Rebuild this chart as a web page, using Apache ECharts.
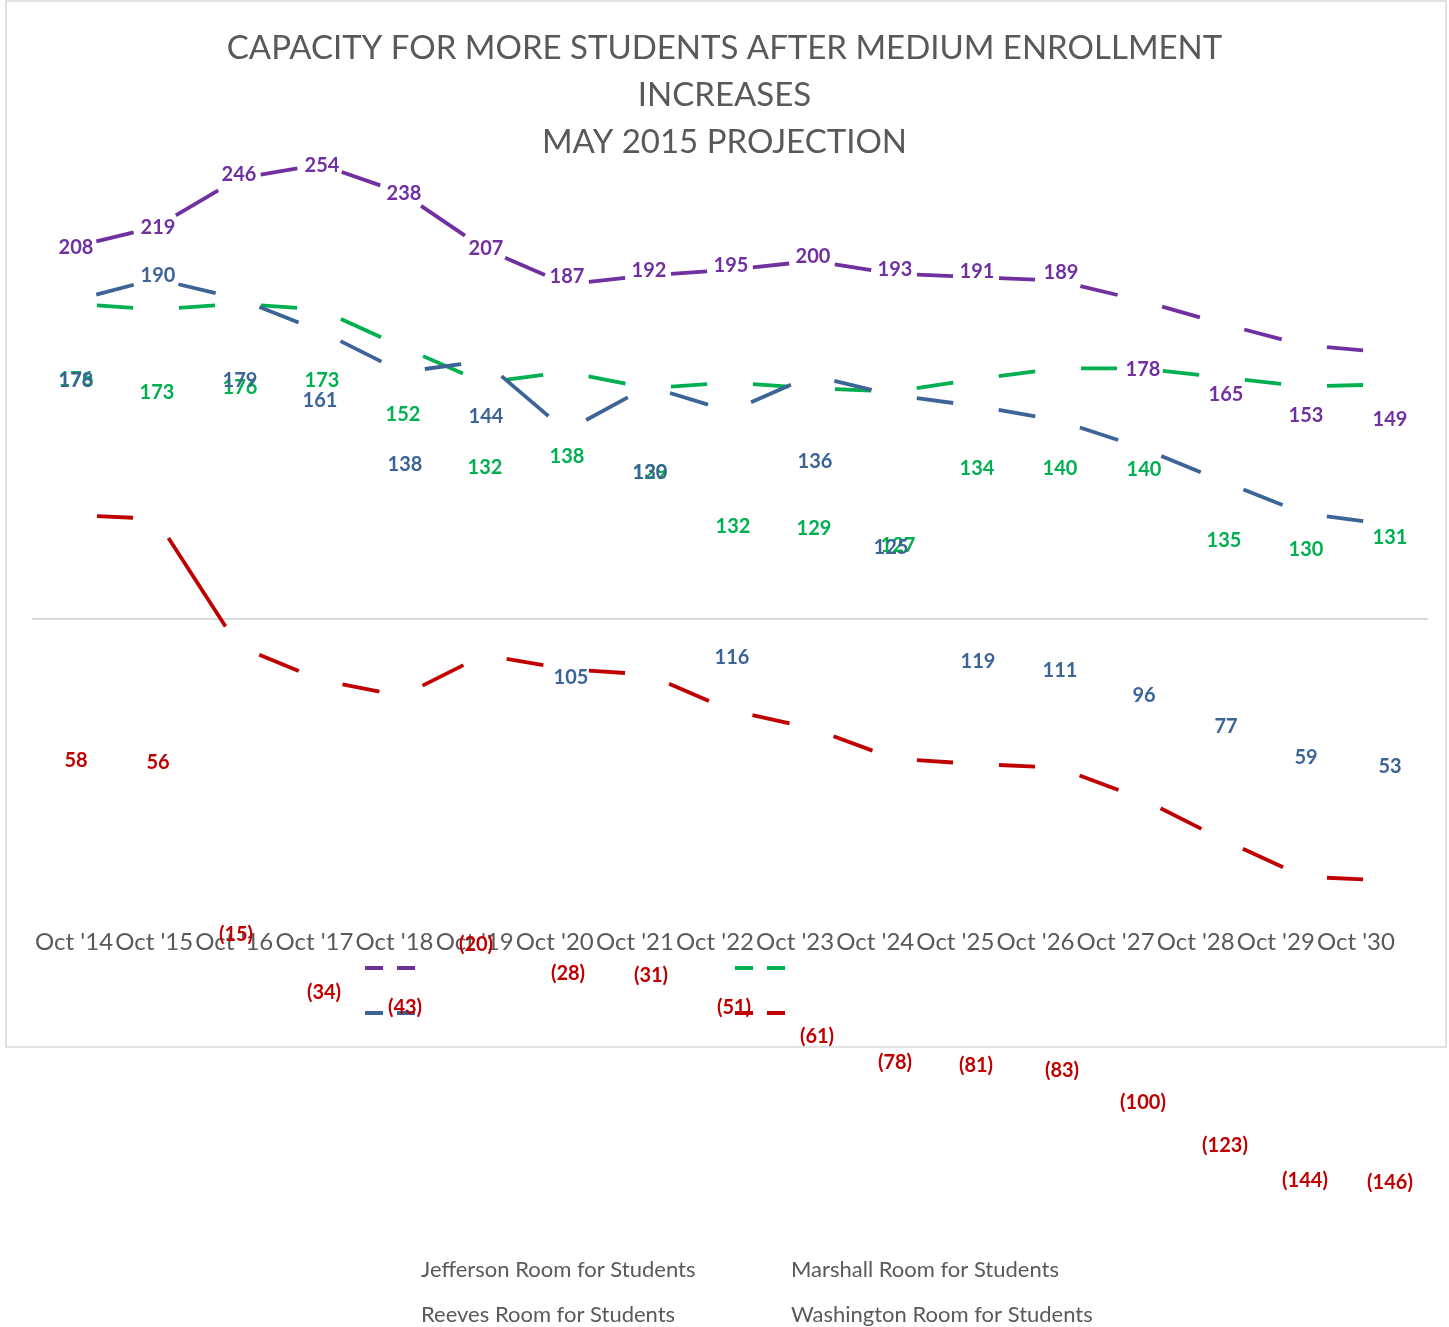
<!DOCTYPE html>
<html>
<head>
<meta charset="utf-8">
<script src="https://cdn.jsdelivr.net/npm/echarts@6/dist/echarts.min.js"></script>
<style>
  html, body { margin: 0; padding: 0; background: #fff; }
  #chart { width: 1449px; height: 1327px; }
</style>
</head>
<body>
<div id="chart"></div>
<script>
// categories + series values (room for more students)
const categories = ["Oct '14", "Oct '15", "Oct '16", "Oct '17", "Oct '18", "Oct '19", "Oct '20", "Oct '21", "Oct '22",
  "Oct '23", "Oct '24", "Oct '25", "Oct '26", "Oct '27", "Oct '28", "Oct '29", "Oct '30"];
const jefferson = [208, 219, 246, 254, 238, 207, 187, 192, 195, 200, 193, 191, 189, 178, 165, 153, 149];
const marshall = [176, 173, 176, 173, 152, 132, 138, 129, 132, 129, 127, 134, 140, 140, 135, 130, 131];
const reeves = [178, 190, 179, 161, 138, 144, 105, 130, 116, 136, 125, 119, 111, 96, 77, 59, 53];
const washington = [58, 56, -15, -34, -43, -20, -28, -31, -51, -61, -78, -81, -83, -100, -123, -144, -146];

// label placement (px offset from each point) - labels drift away from the lines in the original
const jeffersonLabelOffset = [[2, 1], [2, 1], [1, -4], [2, 1], [2, 1], [2, 0], [1, -8], [1, -5], [1, -4], [1, -4], [1, -4], [1, -6], [3, -8], [3, 69], [4, 71], [2, 70], [4, 67]];
const marshallLabelOffset = [[2, 76], [1, 83], [2, 84], [2, 71], [1, 68], [1, 85], [1, 85], [2, 84], [3, 144], [2, 140], [4, 154], [1, 89], [2, 100], [4, 101], [2, 163], [2, 163], [4, 153]];
const reevesLabelOffset = [[2, 80], [2, -3], [2, 82], [0, 70], [3, 93], [2, 55], [5, 246], [2, 86], [2, 246], [3, 86], [-3, 152], [2, 256], [2, 250], [4, 248], [4, 245], [2, 244], [4, 242]];
const washingtonLabelOffset = [[2, 245], [2, 244], [-2, 289], [4, 313], [3, 312], [-8, 290], [2, 304], [3, 301], [4, 297], [5, 308], [1, 304], [0, 302], [4, 303], [3, 305], [3, 306], [1, 304], [4, 302]];

const PURPLE = "#7030A0";
const GREEN = "#00B050";
const BLUE = "#3C6497";
const RED = "#C00000";
const GRAY_TEXT = "#595959";
const TRIM = 23; // each segment is cut short at both ends

const fmtValue = (v) => (v < 0 ? `(${-v})` : `${v}`);

/**
 * 折线：每段两端各缩进 TRIM 像素
 */
const segmentSeries = (name, values, color) => ({
  name,
  type: "custom",
  xAxisIndex: 0,
  yAxisIndex: 0,
  data: values.slice(0, -1).map((v, i) => [i, v, values[i + 1]]),
  encode: { x: 0, y: 1 },
  renderItem: (params, api) => {
    const p0 = api.coord([api.value(0), api.value(1)]);
    const p1 = api.coord([api.value(0) + 1, api.value(2)]);
    const dx = p1[0] - p0[0];
    const dy = p1[1] - p0[1];
    const t = TRIM / Math.hypot(dx, dy);
    return {
      type: "line",
      shape: { x1: p0[0] + dx * t, y1: p0[1] + dy * t, x2: p1[0] - dx * t, y2: p1[1] - dy * t },
      style: { stroke: color, lineWidth: 3.8, lineCap: "butt" },
    };
  },
  z: 2,
});

const labelSeries = (name, values, offsets, color) => ({
  name,
  type: "scatter",
  xAxisIndex: 0,
  yAxisIndex: 0,
  symbolSize: 1,
  itemStyle: { color: "transparent" },
  emphasis: { disabled: true },
  data: values.map((v, i) => ({ value: [i, v], label: { offset: offsets[i] } })),
  label: {
    show: true,
    position: "inside",
    formatter: (p) => fmtValue(p.value[1]),
    color,
    opacity: 1,
    textBorderWidth: 0,
    fontFamily: "Lato",
    fontWeight: 700,
    fontSize: 20,
  },
  z: 3,
});

const legendItem = (name, left, top) => ({
  data: [name],
  left,
  top,
  icon: "none",
  itemWidth: 0,
  itemHeight: 22,
  selectedMode: false,
  textStyle: { color: GRAY_TEXT, fontSize: 22, fontFamily: "Lato" },
});

const legendDash = (x, y, color) => ({
  type: "line",
  shape: { x1: x, y1: y, x2: x + 50, y2: y },
  style: { stroke: color, lineWidth: 4, lineDash: [18, 14] },
});

const chart = echarts.init(document.getElementById("chart"));

const option = {
  animation: false,
  title: {
    text: "CAPACITY FOR MORE STUDENTS AFTER MEDIUM ENROLLMENT\nINCREASES\nMAY 2015 PROJECTION",
    left: "center",
    top: 20,
    textStyle: { color: GRAY_TEXT, fontSize: 33, lineHeight: 47, fontWeight: "normal", fontFamily: "Lato" },
  },
  legend: [
    legendItem("Jefferson Room for Students", 411, 1254),
    legendItem("Marshall Room for Students", 781, 1254),
    legendItem("Reeves Room for Students", 411, 1299),
    legendItem("Washington Room for Students", 781, 1299),
  ],
  grid: [
    { left: 33, width: 1394, top: 82, height: 895 },
    // category labels sit low and are spaced a bit tighter than the points
    { left: 34, width: 1362, top: 880, height: 40 },
  ],
  xAxis: [
    {
      gridIndex: 0,
      type: "category",
      data: categories,
      axisLine: { onZero: true, lineStyle: { color: "#D9D9D9", width: 2 } },
      axisTick: { show: false },
      axisLabel: { show: false },
    },
    {
      gridIndex: 1,
      type: "category",
      data: categories,
      position: "bottom",
      axisLine: { show: false },
      axisTick: { show: false },
      axisLabel: { interval: 0, margin: 10, color: GRAY_TEXT, fontSize: 24, fontFamily: "Lato" },
    },
  ],
  yAxis: [
    { gridIndex: 0, type: "value", min: -200, max: 300, show: false, splitLine: { show: false } },
    { gridIndex: 1, type: "value", show: false },
  ],
  graphic: [
    {
      type: "rect",
      shape: { x: 6, y: 1, width: 1440, height: 1046 },
      style: { fill: "none", stroke: "#D9D9D9", lineWidth: 1.5 },
      z: -1,
    },
    legendDash(365, 968, PURPLE),
    legendDash(735, 968, GREEN),
    legendDash(365, 1013, BLUE),
    legendDash(735, 1013, RED),
  ],
  series: [
    segmentSeries("Jefferson Room for Students", jefferson, PURPLE),
    segmentSeries("Marshall Room for Students", marshall, GREEN),
    segmentSeries("Reeves Room for Students", reeves, BLUE),
    segmentSeries("Washington Room for Students", washington, RED),
    labelSeries("Jefferson Room for Students", jefferson, jeffersonLabelOffset, PURPLE),
    labelSeries("Marshall Room for Students", marshall, marshallLabelOffset, GREEN),
    labelSeries("Reeves Room for Students", reeves, reevesLabelOffset, BLUE),
    labelSeries("Washington Room for Students", washington, washingtonLabelOffset, RED),
  ],
};

chart.setOption(option);
</script>
</body>
</html>
